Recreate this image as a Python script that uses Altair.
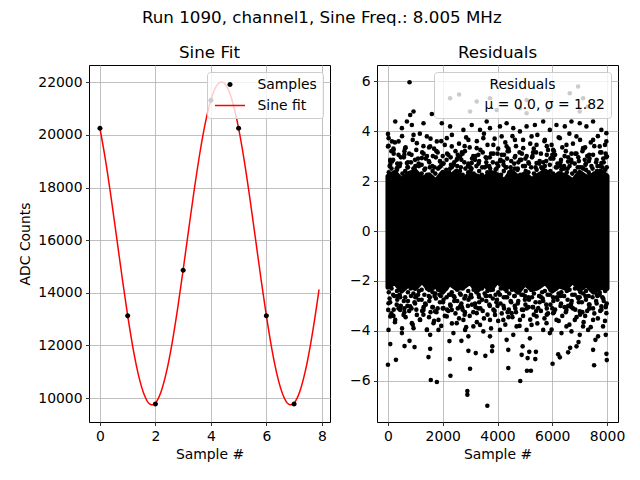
import altair as alt
import pandas as pd

FONT = "DejaVu Sans"

# ---------------- Sine fit panel data ----------------
sample_x = [0, 1, 2, 3, 4, 5, 6, 7]
sample_y = [20253, 13124, 9772, 14860, 21316, 20253, 13124, 9772]

fit_x = [0.0, 0.2, 0.4, 0.6, 0.8, 1.0, 1.2, 1.4, 1.6, 1.8, 1.9, 2.0, 2.2, 2.4, 2.6, 2.8,
         3.0, 3.2, 3.4, 3.6, 3.8, 4.0, 4.2, 4.4, 4.6, 4.8, 5.0, 5.2, 5.4, 5.6, 5.8,
         6.0, 6.2, 6.4, 6.6, 6.8, 6.9, 7.0, 7.2, 7.4, 7.6, 7.8, 7.9]
fit_y = [20252, 19042, 17634, 16116, 14583, 13130, 11852, 10826, 10118, 9771, 9742, 9809,
         10228, 11002, 12083, 13402, 14877, 16415, 17920, 19296, 20457, 21331, 21863,
         22018, 21788, 21187, 20252, 19042, 17634, 16116, 14583, 13130, 11852, 10826,
         10118, 9771, 9742, 9809, 10228, 11002, 12083, 13402, 14126]

# ---------------- Residuals panel data ----------------
# dense core of the cloud (envelope)
band_x = [0, 250, 500, 750, 1000, 1250, 1500, 1750, 2000, 2250, 2500, 2750, 3000, 3250,
          3500, 3750, 4000, 4250, 4500, 4750, 5000, 5250, 5500, 5750, 6000, 6250, 6500,
          6750, 7000, 7250, 7500, 7750, 7999]
band_hi = [2.2, 2.35, 2.05, 2.3, 2.4, 2.1, 2.25, 2.0, 2.35, 2.15, 2.4, 2.05, 2.3, 2.2,
           2.1, 2.35, 2.25, 2.0, 2.4, 2.15, 2.3, 2.05, 2.25, 2.4, 2.1, 2.3, 2.2, 2.0,
           2.35, 2.15, 2.25, 2.4, 2.2]
band_lo = [-2.25, -2.05, -2.4, -2.15, -2.3, -2.0, -2.35, -2.2, -2.45, -2.1, -2.3, -2.25,
           -2.05, -2.4, -2.15, -2.35, -2.0, -2.3, -2.2, -2.45, -2.1, -2.35, -2.25, -2.05,
           -2.4, -2.2, -2.3, -2.0, -2.35, -2.15, -2.45, -2.25, -2.3]

# scattered points outside the core
res_x = [
    # lower tail
    0, 291, 84, 606, 788, 970, 1480, 1541, 1565, 1785, 2258, 2282, 2245, 2682, 2937,
    2998, 3206, 2900, 2900, 3556, 3629, 3800, 3810, 4394, 4394, 4831, 4918, 4882, 5100,
    5075, 5221, 5160, 5403, 5379, 5184, 6011, 6216, 6277, 6580, 6653, 6885, 6958, 7527,
    7491, 7576, 7978, 7990, 7953,
    # lower fringe
    10, 84, 20, 266, 448, 570, 509, 873, 934, 1055, 1177, 1420, 1541, 1662, 1845, 1845,
    2027, 2148, 2391, 2512, 2755, 2816, 2937, 3119, 3362, 3483, 3726, 3726, 4090, 4212,
    4333, 4576, 4697, 4819, 5062, 5244, 5426, 5669, 5790, 5911, 6154, 6336, 6518, 6701,
    6822, 7004, 7125, 7308, 7490, 7672, 7854, 7975, 20, 813, 1298, 1723, 2330, 2634,
    3241, 3908, 4515, 4940, 5487, 6033, 6518, 7004, 7368, 7793,
    350, 600, 1000, 1300, 1700, 2000, 2300, 2700, 3000, 3300, 3600, 4000, 4300, 4650,
    5000, 5300, 5600, 6000, 6300, 6700, 7000, 7350, 7650, 7950, 200, 1500, 2800, 4400,
    5800, 7200,
    # upper tail
    788, 2597, 934, 1602, 266, 509, 873, 1298, 1966, 2269, 2755, 3059, 3362, 3605, 3726,
    4090, 4333, 4576, 4819, 5062, 5365, 5669, 5911, 6154, 6458, 6701, 7004, 7247, 7490,
    7793, 7975, 2269, 3241, 3726, 3969, 4819, 5062, 5851, 6640, 6943, 7125, 7308, 7004,
    2998, 5062, 0, 22, 145, 692, 812, 84, 145,
    # upper fringe
    24, 0, 206, 388, 630, 934, 1055, 1420, 1541, 1784, 2148, 2330, 2634, 2937, 3241,
    3483, 3848, 4152, 4333, 4637, 4940, 5244, 5426, 5729, 6033, 6276, 6518, 6883, 7125,
    7490, 7732, 7975, 84, 691, 1238, 1905, 2512, 3059, 3605, 4212, 4819, 5426, 5972,
    6579, 7186, 7793, 7999,
    350, 600, 1000, 1300, 1700, 2000, 2300, 2700, 3000, 3300, 3600, 4000, 4300, 4650,
    5000, 5300, 5600, 6000, 6300, 6700, 7000, 7350, 7650, 7950, 200, 1500, 2800, 4400,
    5800, 7200,
]
res_y = [
    # lower tail
    -5.36, -5.16, -4.53, -4.61, -4.40, -4.65, -5.05, -4.72, -5.97, -6.05, -5.13, -5.80,
    -4.41, -4.40, -4.80, -5.52, -4.89, -6.41, -6.56, -5.00, -7.00, -4.81, -4.62, -5.49,
    -4.76, -6.01, -4.62, -4.96, -5.09, -5.60, -5.60, -4.84, -4.84, -5.13, -4.30, -5.32,
    -4.94, -5.06, -4.86, -4.68, -4.62, -4.45, -5.38, -4.76, -4.36, -4.92, -5.17, -4.16,
    # lower fringe
    -3.16, -3.42, -3.96, -3.56, -3.16, -3.36, -4.09, -3.69, -3.89, -3.36, -3.56, -3.96,
    -4.16, -3.69, -3.56, -3.96, -3.09, -3.42, -4.09, -3.69, -3.56, -3.96, -4.22, -3.82,
    -3.76, -4.02, -4.22, -3.56, -3.96, -3.56, -4.36, -4.16, -3.82, -3.56, -3.96, -3.76,
    -3.42, -3.96, -3.69, -4.09, -3.56, -4.09, -3.82, -4.02, -3.56, -4.16, -3.82, -3.96,
    -3.56, -4.22, -3.82, -3.29, -2.89, -3.02, -3.16, -3.22, -3.16, -3.02, -3.29, -3.36,
    -3.29, -3.16, -3.09, -3.29, -3.16, -3.22, -3.09, -3.02,
    -2.6, -3.1, -2.65, -3.05, -2.6, -3.1, -2.55, -3.05, -2.65, -3.1, -2.6, -3.0, -2.65,
    -3.1, -2.6, -3.05, -2.65, -3.1, -2.6, -3.05, -2.65, -3.1, -2.6, -3.05, -3.4, -3.45,
    -3.35, -3.45, -3.35, -3.4,
    # upper tail
    5.96, 5.47, 4.79, 4.69, 4.39, 4.12, 4.25, 4.32, 4.32, 4.19, 4.05, 4.25, 4.05, 4.39,
    4.12, 4.19, 4.32, 4.12, 3.99, 4.19, 4.25, 4.39, 4.05, 4.25, 4.19, 4.39, 4.32, 4.19,
    4.39, 4.05, 3.92, 5.32, 5.19, 5.32, 4.85, 4.92, 4.72, 4.85, 5.52, 5.79, 5.32, 4.99,
    4.79, 4.79, 5.25, 3.89, 3.41, 3.59, 4.39, 4.65, 2.65, 2.78,
    # upper fringe
    3.72, 3.39, 3.25, 3.59, 3.32, 3.85, 3.52, 3.79, 3.39, 3.59, 3.72, 3.39, 2.98, 3.65,
    3.32, 3.72, 3.45, 3.79, 3.39, 3.65, 3.32, 3.79, 3.45, 3.65, 3.25, 3.72, 3.45, 3.79,
    3.32, 3.65, 3.39, 3.59, 2.85, 2.72, 2.92, 2.78, 2.85, 2.72, 2.92, 2.78, 2.85, 2.72,
    2.92, 2.78, 2.85, 2.72, 2.98,
    2.55, 3.05, 2.6, 3.1, 2.55, 3.0, 2.65, 3.15, 2.55, 3.05, 2.6, 3.1, 2.55, 3.0, 2.6,
    3.15, 2.55, 3.05, 2.6, 3.1, 2.55, 3.05, 2.6, 3.1, 3.3, 3.35, 3.4, 3.3, 3.4, 3.35,
]

# extra points along the ragged edges of the core
edge_x1 = [60, 190, 320, 450, 580, 710, 840, 970, 1100, 1230, 1360, 1490, 1620, 1750,
           1880, 2010, 2140, 2270, 2400, 2530, 2660, 2790, 2920, 3050, 3180, 3310, 3440,
           3570, 3700, 3830, 3960, 4090, 4220, 4350, 4480, 4610, 4740, 4870, 5000, 5130,
           5260, 5390, 5520, 5650, 5780, 5910, 6040, 6170, 6300, 6430, 6560, 6690, 6820,
           6950, 7080, 7210, 7340, 7470, 7600, 7730, 7860, 7990]
edge_up1 = [2.6, 2.85, 2.5, 2.7, 2.95, 2.55, 2.75, 2.5, 2.9, 2.65, 2.5, 2.8, 2.6, 2.95,
            2.55, 2.7, 2.85, 2.5, 2.65, 2.9, 2.55, 2.75, 2.6, 2.5, 2.85, 2.7, 2.55, 2.95,
            2.6, 2.75, 2.5, 2.8, 2.65, 2.9, 2.55, 2.7, 2.5, 2.85, 2.6, 2.75, 2.95, 2.55,
            2.7, 2.5, 2.8, 2.65, 2.9, 2.55, 2.75, 2.6, 2.5, 2.85, 2.7, 2.95, 2.55, 2.65,
            2.8, 2.5, 2.75, 2.6, 2.9, 2.55]
edge_lo1 = [-2.7, -2.55, -2.95, -2.65, -2.8, -3.0, -2.6, -2.85, -2.55, -2.75, -2.9, -2.6,
            -3.05, -2.7, -2.55, -2.85, -2.65, -2.95, -2.6, -2.8, -2.55, -2.7, -3.0, -2.65,
            -2.9, -2.55, -2.75, -2.6, -2.95, -2.7, -2.85, -2.55, -3.0, -2.65, -2.8, -2.6,
            -2.9, -2.55, -2.75, -3.05, -2.65, -2.85, -2.6, -2.7, -2.95, -2.55, -2.8, -2.65,
            -3.0, -2.6, -2.75, -2.9, -2.55, -2.7, -2.85, -2.6, -2.95, -2.65, -2.8, -2.55,
            -2.7, -2.9]
edge_x2 = [125, 255, 385, 515, 645, 775, 905, 1035, 1165, 1295, 1425, 1555, 1685, 1815,
           1945, 2075, 2205, 2335, 2465, 2595, 2725, 2855, 2985, 3115, 3245, 3375, 3505,
           3635, 3765, 3895, 4025, 4155, 4285, 4415, 4545, 4675, 4805, 4935, 5065, 5195,
           5325, 5455, 5585, 5715, 5845, 5975, 6105, 6235, 6365, 6495, 6625, 6755, 6885,
           7015, 7145, 7275, 7405, 7535, 7665, 7795, 7925]
edge_up2 = [3.2, 3.55, 3.05, 3.8, 3.35, 3.1, 3.65, 3.25, 3.9, 3.4, 3.0, 3.7, 3.3, 3.15,
            3.6, 3.45, 3.05, 3.85, 3.2, 3.5, 3.1, 3.75, 3.35, 3.0, 3.6, 3.25, 3.9, 3.45,
            3.1, 3.7, 3.3, 3.05, 3.55, 3.2, 3.8, 3.4, 3.15, 3.65, 3.0, 3.5, 3.3, 3.85, 3.1,
            3.6, 3.25, 3.45, 3.05, 3.75, 3.35, 3.2, 3.9, 3.5, 3.1, 3.65, 3.3, 3.0, 3.55,
            3.4, 3.8, 3.15, 3.45]
edge_lo2 = [-3.3, -3.65, -3.1, -3.9, -3.45, -3.2, -3.75, -3.15, -3.55, -3.35, -3.95, -3.25,
            -3.6, -3.1, -3.8, -3.4, -3.2, -3.7, -3.3, -3.5, -3.15, -3.85, -3.4, -3.25,
            -3.65, -3.1, -3.5, -3.35, -3.9, -3.2, -3.6, -3.3, -3.75, -3.15, -3.45, -3.25,
            -3.8, -3.4, -3.1, -3.55, -3.35, -3.7, -3.2, -3.5, -3.3, -3.95, -3.15, -3.6,
            -3.4, -3.25, -3.75, -3.1, -3.45, -3.35, -3.65, -3.2, -3.85, -3.3, -3.5, -3.15,
            -3.6]
edge_x3 = [30, 130, 230, 330, 430, 530, 630, 730, 830, 930, 1030, 1130, 1230, 1330, 1430,
           1530, 1630, 1730, 1830, 1930, 2030, 2130, 2230, 2330, 2430, 2530, 2630, 2730,
           2830, 2930, 3030, 3130, 3230, 3330, 3430, 3530, 3630, 3730, 3830, 3930, 4030,
           4130, 4230, 4330, 4430, 4530, 4630, 4730, 4830, 4930, 5030, 5130, 5230, 5330,
           5430, 5530, 5630, 5730, 5830, 5930, 6030, 6130, 6230, 6330, 6430, 6530, 6630,
           6730, 6830, 6930, 7030, 7130, 7230, 7330, 7430, 7530, 7630, 7730, 7830, 7930]
edge_up3 = [2.35, 2.5, 2.25, 2.45, 2.6, 2.3, 2.4, 2.55, 2.25, 2.5, 2.35, 2.6, 2.3, 2.45,
            2.25, 2.55, 2.4, 2.3, 2.5, 2.6, 2.25, 2.45, 2.35, 2.55, 2.3, 2.6, 2.4, 2.25,
            2.5, 2.35, 2.45, 2.3, 2.6, 2.4, 2.25, 2.55, 2.35, 2.5, 2.3, 2.45, 2.6, 2.25,
            2.4, 2.55, 2.35, 2.3, 2.5, 2.45, 2.25, 2.6, 2.4, 2.35, 2.55, 2.3, 2.45, 2.25,
            2.5, 2.6, 2.35, 2.4, 2.3, 2.55, 2.25, 2.45, 2.5, 2.35, 2.6, 2.3, 2.4, 2.55,
            2.25, 2.5, 2.45, 2.35, 2.6, 2.3, 2.4, 2.25, 2.55, 2.45]
edge_lo3 = [-2.45, -2.3, -2.6, -2.4, -2.55, -2.35, -2.65, -2.45, -2.3, -2.5, -2.6, -2.4,
            -2.35, -2.55, -2.3, -2.65, -2.45, -2.5, -2.35, -2.6, -2.4, -2.3, -2.55, -2.45,
            -2.65, -2.35, -2.5, -2.3, -2.6, -2.4, -2.55, -2.35, -2.45, -2.65, -2.3, -2.5,
            -2.4, -2.6, -2.35, -2.55, -2.45, -2.3, -2.65, -2.4, -2.5, -2.35, -2.6, -2.45,
            -2.3, -2.55, -2.4, -2.65, -2.35, -2.5, -2.3, -2.6, -2.45, -2.4, -2.55, -2.35,
            -2.65, -2.3, -2.5, -2.45, -2.6, -2.4, -2.35, -2.55, -2.3, -2.65, -2.45, -2.5,
            -2.4, -2.6, -2.35, -2.3, -2.55, -2.45, -2.65, -2.4]
edge_x4 = [80, 210, 340, 470, 600, 730, 860, 990, 1120, 1250, 1380, 1510, 1640, 1770,
           1900, 2030, 2160, 2290, 2420, 2550, 2680, 2810, 2940, 3070, 3200, 3330, 3460,
           3590, 3720, 3850, 3980, 4110, 4240, 4370, 4500, 4630, 4760, 4890, 5020, 5150,
           5280, 5410, 5540, 5670, 5800, 5930, 6060, 6190, 6320, 6450, 6580, 6710, 6840,
           6970, 7100, 7230, 7360, 7490, 7620, 7750, 7880, 7960]
edge_up4 = [2.8, 3.1, 2.7, 2.95, 3.2, 2.75, 3.05, 2.85, 2.7, 3.15, 2.9, 2.75, 3.0, 3.2,
            2.8, 2.7, 3.1, 2.95, 2.75, 3.05, 2.85, 3.2, 2.7, 2.9, 3.0, 2.8, 3.15, 2.75,
            2.95, 3.1, 2.7, 2.85, 3.05, 3.2, 2.8, 2.95, 2.75, 3.1, 2.9, 2.7, 3.0, 3.15,
            2.8, 2.75, 3.05, 2.9, 3.2, 2.7, 2.85, 3.0, 2.95, 2.75, 3.1, 2.8, 3.2, 2.7, 2.9,
            3.05, 2.85, 3.15, 2.75, 2.95]
edge_lo4 = [-2.85, -3.15, -2.75, -3.0, -3.25, -2.8, -3.1, -2.9, -2.75, -3.2, -2.95, -2.8,
            -3.05, -3.25, -2.85, -2.75, -3.15, -3.0, -2.8, -3.1, -2.9, -3.25, -2.75, -2.95,
            -3.05, -2.85, -3.2, -2.8, -3.0, -3.15, -2.75, -2.9, -3.1, -3.25, -2.85, -3.0,
            -2.8, -3.15, -2.95, -2.75, -3.05, -3.2, -2.85, -2.8, -3.1, -2.95, -3.25, -2.75,
            -2.9, -3.05, -3.0, -2.8, -3.15, -2.85, -3.25, -2.75, -2.95, -3.1, -2.9, -3.2,
            -2.8, -3.0]

LEGEND_LABELS = ["Samples", "Sine fit"]
RES_LABEL = "\u03bc = 0.0, \u03c3 = 1.82"

CIRCLE_PATH = "M0.36,0A0.36,0.36,0,1,1,-0.36,0A0.36,0.36,0,1,1,0.36,0Z"
LINE_PATH = "M-2.14,-0.107L2.14,-0.107L2.14,0.107L-2.14,0.107Z"

samples_df = pd.DataFrame({"x": sample_x, "y": sample_y, "series": LEGEND_LABELS[0]})
fit_df = pd.DataFrame({"x": fit_x, "y": fit_y})
band_df = pd.DataFrame({"x": band_x, "lo": band_lo, "hi": band_hi})

pairs = (list(zip(res_x, res_y)) + list(zip(edge_x1, edge_up1)) +
         list(zip(edge_x1, edge_lo1)) + list(zip(edge_x2, edge_up2)) +
         list(zip(edge_x2, edge_lo2)) + list(zip(edge_x3, edge_up3)) +
         list(zip(edge_x3, edge_lo3)) + list(zip(edge_x4, edge_up4)) +
         list(zip(edge_x4, edge_lo4)))
res_df = pd.DataFrame(pairs, columns=["x", "y"])
res_df["lbl"] = RES_LABEL

legend_common = dict(
    orient="top-right", offset=7, fillColor="rgba(255,255,255,0.8)",
    strokeColor="#cccccc", cornerRadius=3, padding=5.5, symbolSize=196,
    symbolStrokeWidth=0, labelFontSize=13.9, labelFont=FONT, labelColor="black",
    labelOffset=20.5, rowPadding=7, symbolOffset=10.5,
)

left_legend = alt.Legend(title=None, symbolOpacity=1, **legend_common)

xs_l = alt.Scale(domain=[-0.395, 8.295], nice=False, zero=False)
ys_l = alt.Scale(domain=[9090, 22660], nice=False, zero=False)
x_ax_l = alt.Axis(values=[0, 2, 4, 6, 8], title="Sample #", format="d")
y_ax_l = alt.Axis(values=[10000, 12000, 14000, 16000, 18000, 20000, 22000],
                  title="ADC Counts", format="d")

fit_line = alt.Chart(fit_df).mark_line(color="#ff0000", strokeWidth=1.5,
                                       interpolate="monotone").encode(
    x=alt.X("x:Q", scale=xs_l, axis=x_ax_l),
    y=alt.Y("y:Q", scale=ys_l, axis=y_ax_l),
)
sample_pts = alt.Chart(samples_df).mark_point(filled=True, size=196, opacity=1,
                                              strokeWidth=0).encode(
    x=alt.X("x:Q", scale=xs_l, axis=x_ax_l),
    y=alt.Y("y:Q", scale=ys_l, axis=y_ax_l),
    color=alt.Color("series:N", scale=alt.Scale(domain=LEGEND_LABELS,
                                                range=["black", "#ff0000"]),
                    legend=left_legend),
    shape=alt.Shape("series:N", scale=alt.Scale(domain=LEGEND_LABELS,
                                                range=[CIRCLE_PATH, LINE_PATH]),
                    legend=left_legend),
)

left = alt.layer(fit_line, sample_pts).properties(
    width=241, height=357,
    title=alt.TitleParams("Sine Fit", fontSize=16.7, font=FONT, fontWeight="normal",
                          color="black", anchor="middle", offset=3),
)

# ---------------- right panel ----------------
xs_r = alt.Scale(domain=[-400, 8400], nice=False, zero=False)
ys_r = alt.Scale(domain=[-7.65, 6.65], nice=False, zero=False)
x_ax_r = alt.Axis(values=[0, 2000, 4000, 6000, 8000], title="Sample #", format="d")
y_ax_r = alt.Axis(values=[-6, -4, -2, 0, 2, 4, 6], title=None, format="d")

right_legend = alt.Legend(title="Residuals", titleFontSize=13.9, titleFont=FONT,
                          titleFontWeight="normal", titleColor="black",
                          titleAnchor="middle", titlePadding=7, symbolOpacity=0,
                          **legend_common)

band = alt.Chart(band_df).mark_area(color="black", stroke="black", strokeWidth=5,
                                    strokeJoin="round", opacity=1).encode(
    x=alt.X("x:Q", scale=xs_r, axis=x_ax_r),
    y=alt.Y("lo:Q", scale=ys_r, axis=y_ax_r),
    y2="hi:Q",
)
res_pts = alt.Chart(res_df).mark_point(filled=True, shape="circle", size=21,
                                       opacity=1, strokeWidth=0).encode(
    x=alt.X("x:Q", scale=xs_r, axis=x_ax_r),
    y=alt.Y("y:Q", scale=ys_r, axis=y_ax_r),
    color=alt.Color("lbl:N", scale=alt.Scale(domain=[RES_LABEL], range=["black"]),
                    legend=right_legend),
)

right = alt.layer(band, res_pts).properties(
    width=241, height=357,
    title=alt.TitleParams("Residuals", fontSize=16.7, font=FONT, fontWeight="normal",
                          color="black", anchor="middle", offset=3),
)

chart = alt.hconcat(left, right, spacing=18).resolve_scale(
    color="independent", shape="independent"
).properties(
    title=alt.TitleParams("Run 1090, channel1, Sine Freq.: 8.005 MHz", fontSize=16.7,
                          font=FONT, fontWeight="normal", color="black",
                          anchor="middle", offset=18),
    padding={"left": 10, "top": 2, "right": 5, "bottom": 5},
).configure(background="white").configure_view(
    stroke="black", strokeWidth=1
).configure_axis(
    domain=False, grid=True, gridColor="#b0b0b0", gridWidth=0.8,
    tickColor="black", tickSize=3.5, tickWidth=0.8,
    labelFont=FONT, labelFontSize=13.9, labelColor="black", labelPadding=3.5,
    titleFont=FONT, titleFontSize=13.9, titleFontWeight="normal", titleColor="black",
    titlePadding=5,
)

chart.save("out.html", embed_options={"renderer": "svg", "actions": False})
